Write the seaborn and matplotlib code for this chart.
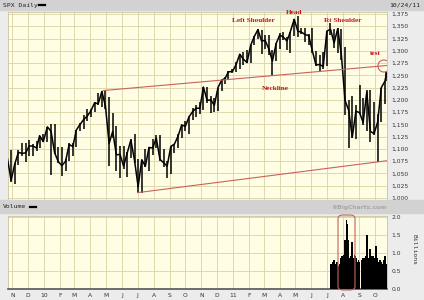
import numpy as np
import pandas as pd
import matplotlib
matplotlib.use("Agg")
import matplotlib.pyplot as plt
import seaborn as sns
from matplotlib.patches import Rectangle, Ellipse, FancyBboxPatch
from matplotlib.lines import Line2D

# ---------------- data ----------------
week_dates = [
    "2009-10-23", "2009-10-30", "2009-11-06", "2009-11-13", "2009-11-20", "2009-11-27",
    "2009-12-04", "2009-12-11", "2009-12-18", "2009-12-24", "2009-12-31",
    "2010-01-08", "2010-01-15", "2010-01-22", "2010-01-29", "2010-02-05", "2010-02-12",
    "2010-02-19", "2010-02-26", "2010-03-05", "2010-03-12", "2010-03-19", "2010-03-26",
    "2010-04-02", "2010-04-09", "2010-04-16", "2010-04-23", "2010-04-30", "2010-05-07",
    "2010-05-14", "2010-05-21", "2010-05-28", "2010-06-04", "2010-06-11", "2010-06-18",
    "2010-06-25", "2010-07-02", "2010-07-09", "2010-07-16", "2010-07-23", "2010-07-30",
    "2010-08-06", "2010-08-13", "2010-08-20", "2010-08-27", "2010-09-03", "2010-09-10",
    "2010-09-17", "2010-09-24", "2010-10-01", "2010-10-08", "2010-10-15", "2010-10-22",
    "2010-10-29", "2010-11-05", "2010-11-12", "2010-11-19", "2010-11-26", "2010-12-03",
    "2010-12-10", "2010-12-17", "2010-12-23", "2010-12-31",
    "2011-01-07", "2011-01-14", "2011-01-21", "2011-01-28", "2011-02-04", "2011-02-11",
    "2011-02-18", "2011-02-25", "2011-03-04", "2011-03-11", "2011-03-18", "2011-03-25",
    "2011-04-01", "2011-04-08", "2011-04-15", "2011-04-21", "2011-04-29", "2011-05-06",
    "2011-05-13", "2011-05-20", "2011-05-27", "2011-06-03", "2011-06-10", "2011-06-17",
    "2011-06-24", "2011-07-01", "2011-07-08", "2011-07-15", "2011-07-22", "2011-07-29",
    "2011-08-05", "2011-08-12", "2011-08-19", "2011-08-26", "2011-09-02", "2011-09-09",
    "2011-09-16", "2011-09-23", "2011-09-30", "2011-10-07", "2011-10-14", "2011-10-21",
    "2011-10-24",
]
closes = [
    1080, 1036, 1069, 1093, 1091, 1092,
    1106, 1106, 1102, 1127, 1115,
    1145, 1136, 1092, 1074, 1066, 1075,
    1109, 1105, 1139, 1150, 1160, 1167,
    1178, 1194, 1192, 1217, 1187, 1111,
    1136, 1088, 1089, 1065, 1092, 1118,
    1077, 1023, 1078, 1065, 1103, 1102,
    1122, 1079, 1072, 1065, 1105, 1110,
    1126, 1149, 1146, 1165, 1176, 1183,
    1183, 1226, 1199, 1200, 1189, 1225,
    1240, 1244, 1257, 1258,
    1272, 1293, 1283, 1276, 1311, 1329,
    1343, 1320, 1321, 1304, 1279, 1314,
    1332, 1328, 1320, 1337, 1364, 1340,
    1338, 1333, 1331, 1300, 1271, 1272,
    1268, 1340, 1344, 1316, 1345, 1292,
    1199, 1179, 1124, 1177, 1174, 1154,
    1216, 1136, 1131, 1155, 1225, 1238,
    1254,
]
highs = [
    1101, 1098, 1072, 1097, 1113, 1112,
    1119, 1110, 1117, 1127, 1130,
    1145, 1150, 1150, 1103, 1104, 1080,
    1112, 1112, 1139, 1153, 1169, 1181,
    1181, 1195, 1214, 1219, 1220, 1205,
    1174, 1147, 1105, 1105, 1093, 1121,
    1131, 1080, 1078, 1099, 1103, 1121,
    1128, 1129, 1100, 1075, 1105, 1110,
    1131, 1149, 1157, 1168, 1184, 1190,
    1196, 1227, 1227, 1207, 1204, 1225,
    1241, 1247, 1258, 1262,
    1278, 1293, 1297, 1302, 1311, 1330,
    1344, 1343, 1333, 1332, 1302, 1315,
    1337, 1339, 1329, 1338, 1364, 1371,
    1346, 1346, 1334, 1346, 1300, 1292,
    1298, 1341, 1356, 1344, 1347, 1345,
    1307, 1199, 1208, 1190, 1231, 1204,
    1220, 1220, 1195, 1171, 1225, 1239,
    1256,
]
lows = [
    1075, 1033, 1029, 1067, 1086, 1073,
    1086, 1086, 1095, 1102, 1114,
    1115, 1047, 1090, 1071, 1044, 1056,
    1075, 1086, 1104, 1136, 1140, 1156,
    1165, 1175, 1190, 1186, 1181, 1065,
    1122, 1055, 1040, 1060, 1042, 1081,
    1071, 1011, 1011, 1063, 1056, 1088,
    1102, 1076, 1063, 1040, 1048, 1092,
    1101, 1122, 1136, 1131, 1159, 1166,
    1171, 1179, 1194, 1173, 1176, 1177,
    1218, 1232, 1242, 1254,
    1257, 1262, 1271, 1275, 1276, 1311,
    1323, 1294, 1303, 1291, 1249, 1279,
    1303, 1322, 1302, 1295, 1331, 1329,
    1334, 1318, 1311, 1296, 1268, 1258,
    1262, 1268, 1333, 1306, 1295, 1282,
    1169, 1101, 1122, 1121, 1172, 1149,
    1136, 1114, 1128, 1074, 1155, 1191,
    1238,
]

vol_dates = pd.bdate_range("2011-07-08", "2011-10-24")
vol_dates = vol_dates[vol_dates != pd.Timestamp("2011-09-05")]
volumes = [
    0.70, 0.70, 0.75, 0.70, 0.75, 0.80, 0.70, 0.70, 0.65, 0.75, 0.60,
    0.65, 0.70, 0.85, 0.80, 0.90,
    0.90, 0.95, 0.95, 1.25, 1.35, 1.90, 1.80, 1.55, 1.35, 1.00,
    0.85, 0.90, 0.85, 1.30, 1.15, 0.85, 0.95, 0.85, 0.90, 0.85,
    0.70, 0.75, 0.80,
    0.75, 0.70, 0.80, 0.75, 0.80, 0.85, 0.85, 0.80, 0.90, 0.85, 1.50,
    0.85, 0.80, 0.95, 1.10, 0.95, 0.90, 0.90, 0.85, 0.90, 0.85,
    1.00, 1.20, 0.95, 0.85, 0.80, 0.75, 0.65, 0.80, 0.70, 0.75,
    0.70, 0.75, 0.80, 0.80, 0.90, 0.70,
]

trend_upper_dates = ["2010-04-26", "2011-10-25"]
trend_upper_vals = [1219, 1270]
trend_lower_dates = ["2010-07-01", "2011-10-25"]
trend_lower_vals = [1011, 1076]

price_ticks = list(range(1000, 1376, 25))
vol_ticks = [0.0, 0.5, 1.0, 1.5, 2.0]
month_starts = pd.date_range("2009-11-01", "2011-10-01", freq="MS")
month_labels = [("%02d" % (d.year % 100)) if d.month == 1 else d.strftime("%b")[0]
                for d in month_starts]

# ---------------- layout helpers ----------------
W, H = 424, 300
def rect(x0, y0, x1, y1):
    return [x0 / W, 1 - y1 / H, (x1 - x0) / W, (y1 - y0) / H]
def fx(x):
    return x / W
def fy(y):
    return 1 - y / H

plt.rcParams['font.family'] = ['DejaVu Sans']
BG = '#fffde3'
GRID = '#d9d3a6'
TREND = '#c8625c'
ANN = '#c0141c'
XMIN, XMAX = pd.Timestamp("2009-10-24"), pd.Timestamp("2011-10-25")

fig = plt.figure(figsize=(4.24, 3.0), dpi=100, facecolor='#ececec')
# header bands
fig.patches.append(Rectangle((0, fy(10)), 1, 10 / H, transform=fig.transFigure,
                             color='#d2d2d2', zorder=0))
fig.patches.append(Rectangle((0, fy(213)), 1, 13 / H, transform=fig.transFigure,
                             color='#d2d2d2', zorder=0))

# ---------------- price panel ----------------
ax = fig.add_axes(rect(8, 12, 387, 200))
ax.set_facecolor(BG)
df = pd.DataFrame({"date": pd.to_datetime(week_dates), "close": closes,
                   "high": highs, "low": lows})
ax.vlines(df["date"], df["low"], df["high"], color='black', lw=1.1, zorder=3)
sns.lineplot(data=df, x="date", y="close", ax=ax, color='black', lw=1.1, zorder=3)

up = pd.DataFrame({"date": pd.to_datetime(trend_upper_dates), "v": trend_upper_vals})
lo = pd.DataFrame({"date": pd.to_datetime(trend_lower_dates), "v": trend_lower_vals})
sns.lineplot(data=up, x="date", y="v", ax=ax, color=TREND, lw=0.8, zorder=4)
sns.lineplot(data=lo, x="date", y="v", ax=ax, color=TREND, lw=0.8, zorder=4)

ax.add_patch(Ellipse((pd.Timestamp("2011-10-19"), 1269), width=23, height=24.5,
                     fill=False, edgecolor=TREND, lw=0.8, zorder=5))

ax.set_xlim(XMIN, XMAX)
ax.set_ylim(996, 1379)
ax.set_yticks(price_ticks)
ax.set_yticklabels(["{:,}".format(v) for v in price_ticks])
ax.set_xticks(month_starts)
ax.set_xticklabels([])
ax.yaxis.tick_right()
ax.tick_params(length=0, labelsize=4.3, pad=3, colors='#333333')
ax.grid(True, color=GRID, lw=0.6)
ax.set_axisbelow(True)
ax.set_xlabel("")
ax.set_ylabel("")
for s in ax.spines.values():
    s.set_color('#c9c4a0')
    s.set_linewidth(0.6)

# ---------------- volume panel ----------------
vax = fig.add_axes(rect(8, 216, 387, 289))
vax.set_facecolor(BG)
vax.bar(vol_dates, volumes, width=3.2, color='black', lw=0, zorder=3)
vax.set_xlim(XMIN, XMAX)
vax.set_ylim(0, 2.02)
vax.set_yticks(vol_ticks)
vax.set_yticklabels(["%.1f" % v for v in vol_ticks])
vax.set_xticks(month_starts)
vax.set_xticklabels(month_labels)
vax.yaxis.tick_right()
vax.tick_params(length=0, labelsize=4.3, pad=3, colors='#333333')
vax.grid(True, color=GRID, lw=0.6)
vax.set_axisbelow(True)
for s in vax.spines.values():
    s.set_color('#c9c4a0')
    s.set_linewidth(0.6)
vax.spines['bottom'].set_color('#555555')
vax.spines['bottom'].set_linewidth(1.2)

# rounded highlight box around the August volume spike
box = FancyBboxPatch((fx(338), fy(290)), (355 - 338) / W, (290 - 215) / H,
                     boxstyle="round,pad=0,rounding_size=0.012",
                     transform=fig.transFigure, fill=False, edgecolor=TREND, lw=0.8,
                     zorder=10)
fig.patches.append(box)

# ---------------- texts ----------------
mono = 'DejaVu Sans Mono'
fig.text(fx(3), fy(5), "SPX Daily", fontsize=4.6, family=mono, va='center', color='#222222')
fig.lines.append(Line2D([fx(39), fx(45)], [fy(5), fy(5)], transform=fig.transFigure,
                        color='black', lw=1.6))
fig.text(fx(420), fy(5), "10/24/11", fontsize=4.6, family=mono, va='center',
         ha='right', color='#222222')
fig.text(fx(3), fy(207), "Volume", fontsize=4.6, family=mono, va='center', color='#222222')
fig.lines.append(Line2D([fx(30), fx(36)], [fy(207), fy(207)], transform=fig.transFigure,
                        color='black', lw=1.6))
fig.text(fx(359), fy(207), "\u00a9BigCharts.com", fontsize=4.3, fontweight='bold',
         va='center', ha='center', color='#a8a8a8')
fig.text(fx(414), fy(250), "Billions", fontsize=4.6, family=mono, rotation=-90,
         va='center', ha='center', color='#333333')

serif = 'Liberation Serif'
for label, (x, y) in {"Head": (294, 13), "Left Shoulder": (253, 21),
                      "Rt Shoulder": (343, 20), "Neckline": (275, 89),
                      "test": (375, 54)}.items():
    fig.text(fx(x), fy(y), label, fontsize=5.2, family=serif, fontweight='bold',
             color=ANN, ha='center', va='center', zorder=20)

fig.savefig("out.png", dpi=100, facecolor=fig.get_facecolor())
